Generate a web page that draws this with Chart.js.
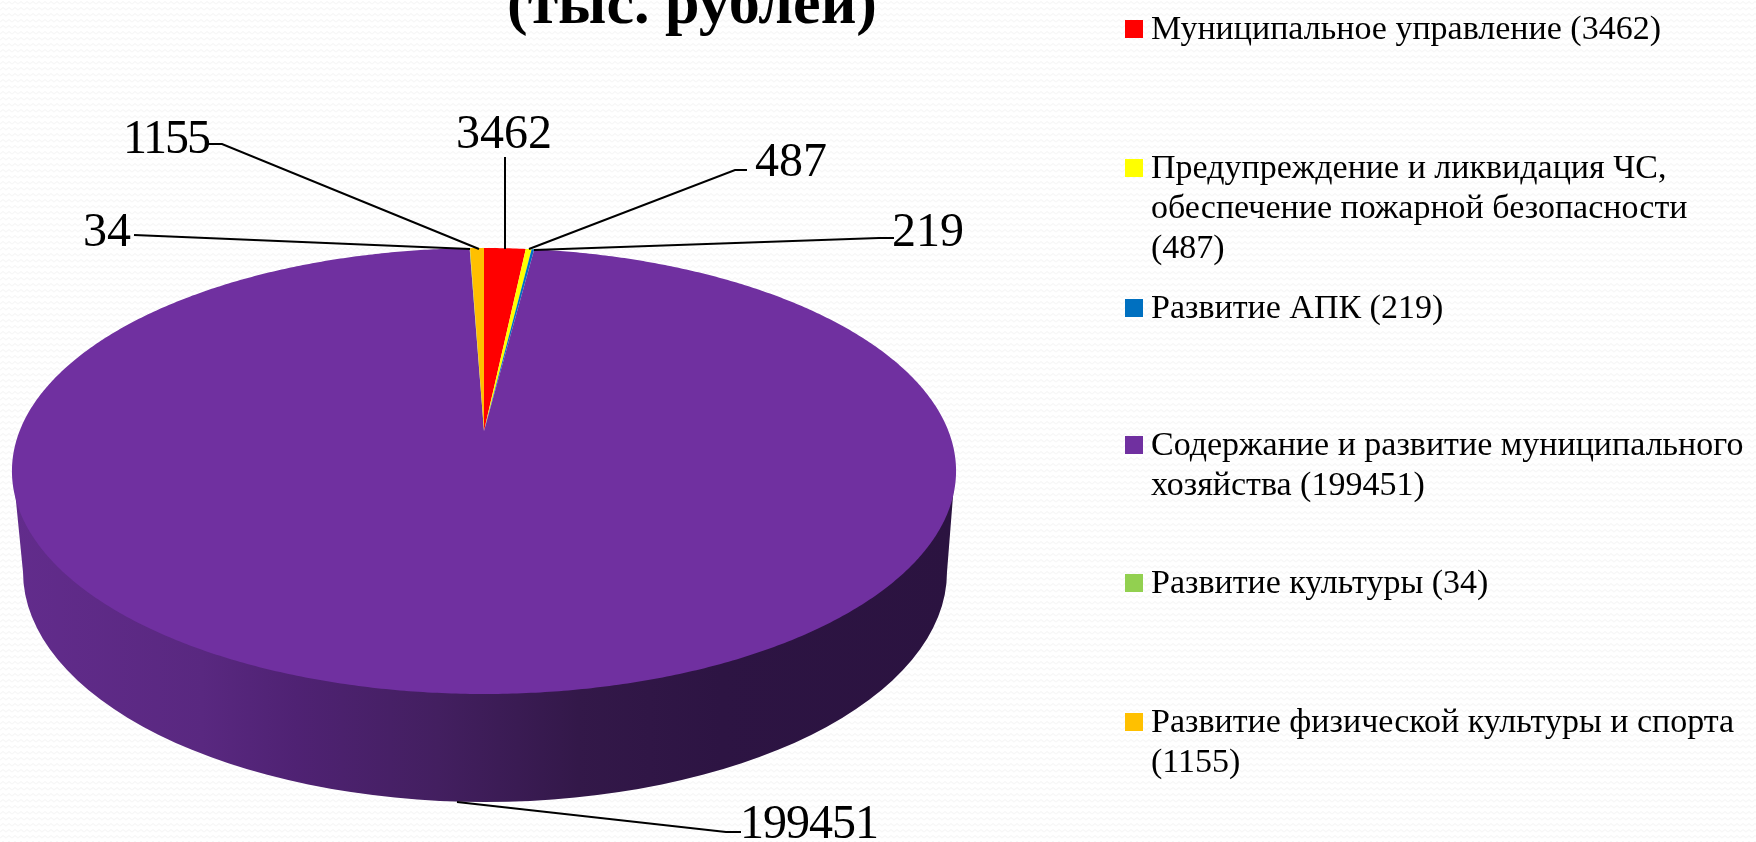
<!DOCTYPE html>
<html lang="ru"><head><meta charset="utf-8">
<script src="https://cdn.jsdelivr.net/npm/chart.js@4"></script>
<style>
html,body{margin:0;padding:0;width:1756px;height:842px;overflow:hidden;background-color:#fff;
background-image:url("data:image/svg+xml,%3Csvg xmlns='http://www.w3.org/2000/svg' width='12' height='12'%3E%3Cpath d='M0 4 L3 1.5 L6 4 L9 1.5 L12 4 M0 10 L3 7.5 L6 10 L9 7.5 L12 10' fill='none' stroke='%23f7f7f7' stroke-width='1.3'/%3E%3C/svg%3E");}
canvas{display:block}
</style></head><body>
<canvas id="c" width="1756" height="842"></canvas>
<script>
const categories = ["Муниципальное управление","Предупреждение и ликвидация ЧС, обеспечение пожарной безопасности","Развитие АПК","Содержание и развитие муниципального хозяйства","Развитие культуры","Развитие физической культуры и спорта"];
const values = [3462,487,219,199451,34,1155];
const colors = ["#FF0000","#FFFF00","#0070C0","#7030A0","#92D050","#FFC000"];
const legendLines = [
 ["Муниципальное управление (3462)"],
 ["Предупреждение и ликвидация ЧС,","обеспечение пожарной безопасности","(487)"],
 ["Развитие АПК (219)"],
 ["Содержание и развитие муниципального","хозяйства (199451)"],
 ["Развитие культуры (34)"],
 ["Развитие физической культуры и спорта","(1155)"]];
const legendFirstY = [29,168,308,445,583,722];
const titleText = "(тыс. рублей)";
const FONT = '"Liberation Serif"';
const leaders = [
 {t:"3462",x:504,y:148,ls:0,pts:[[505,157],[505,249]]},
 {t:"487",x:791,y:176,ls:0,pts:[[747,170],[735,170],[529,249]]},
 {t:"219",x:928,y:246,ls:0,pts:[[894,238],[879,238],[534,250]]},
 {t:"199451",x:809,y:838,ls:-1,pts:[[457,802],[726,832],[741,832]]},
 {t:"34",x:107,y:246,ls:0,pts:[[134,235],[470,249]]},
 {t:"1155",x:166,y:153,ls:-2,pts:[[208,144],[222,144],[479,249]]}];
const top3d = {cx:484,cy:431,a:464.4,b:215.8,q:0.1794};
const base3d = {cx:485,cy:572,rx:462,ry:230};
function project(ang){const x=Math.cos(ang),y=Math.sin(ang),d=1-top3d.q*y;
 return [top3d.cx+top3d.a*x/d, top3d.cy+top3d.b*y/d];}
const pie3d = {id:'pie3d',
 beforeDatasetDraw(chart){
  const ctx=chart.ctx, arcs=chart.getDatasetMeta(0).data;
  ctx.save();
  const g=ctx.createLinearGradient(13,0,956,0);
  g.addColorStop(0,"#622c8c");g.addColorStop(.2,"#592880");g.addColorStop(.3,"#4f2273");g.addColorStop(.45,"#431f60");g.addColorStop(.6,"#331849");g.addColorStop(.75,"#2d1443");g.addColorStop(1,"#2b1340");
  ctx.fillStyle=g;ctx.beginPath();
  ctx.moveTo(13,471);ctx.lineTo(base3d.cx-base3d.rx,base3d.cy);
  ctx.ellipse(base3d.cx,base3d.cy,base3d.rx,base3d.ry,0,Math.PI,0,true);
  ctx.lineTo(955,471);ctx.closePath();ctx.fill();
  arcs.forEach((arc,i)=>{
   const p=arc.getProps(['startAngle','endAngle'],true);
   ctx.beginPath();ctx.moveTo(top3d.cx,top3d.cy);
   const n=Math.max(2,Math.ceil((p.endAngle-p.startAngle)*120));
   for(let k=0;k<=n;k++){const q=project(p.startAngle+(p.endAngle-p.startAngle)*k/n);ctx.lineTo(q[0],q[1]);}
   ctx.closePath();ctx.fillStyle=colors[i];ctx.fill();
  });
  ctx.restore();
  return false;
 },
 afterDraw(chart){
  const ctx=chart.ctx;ctx.save();
  ctx.strokeStyle="#000";ctx.lineWidth=2;
  leaders.forEach(l=>{ctx.beginPath();l.pts.forEach((p,i)=>i?ctx.lineTo(p[0],p[1]):ctx.moveTo(p[0],p[1]));ctx.stroke();});
  ctx.fillStyle="#000";ctx.textAlign="center";ctx.textBaseline="alphabetic";
  ctx.font='48px '+FONT;
  leaders.forEach(l=>{ctx.letterSpacing=l.ls+'px';ctx.fillText(l.t,l.x,l.y);});
  ctx.letterSpacing='0px';
  ctx.font='bold 62px '+FONT;ctx.fillText(titleText,692,23);
  ctx.textAlign="left";ctx.font='34px '+FONT;
  legendLines.forEach((ls,i)=>{
   ctx.fillStyle=colors[i];ctx.fillRect(1125,legendFirstY[i]-9,18,18);
   ctx.fillStyle="#000";
   ls.forEach((s,j)=>ctx.fillText(s,1151,legendFirstY[i]+10+j*40));
  });
  ctx.restore();
 }};
new Chart(document.getElementById('c'),{type:'pie',
 data:{labels:categories,datasets:[{data:values,backgroundColor:colors,borderWidth:0}]},
 options:{responsive:false,animation:false,devicePixelRatio:1,layout:{padding:{right:788}},
  plugins:{legend:{display:false},tooltip:{enabled:false},title:{display:false}}},
 plugins:[pie3d]});
</script></body></html>
